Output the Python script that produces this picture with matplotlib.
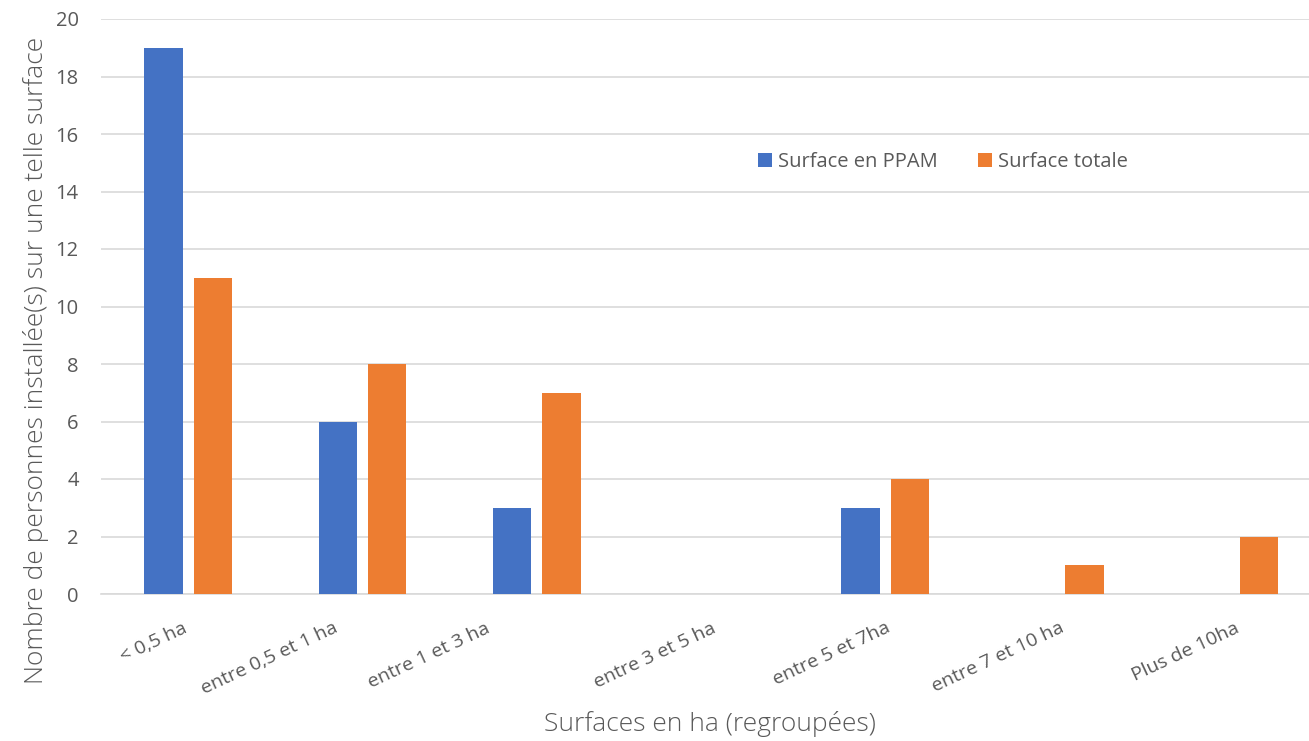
import numpy as np
import matplotlib.pyplot as plt
from matplotlib.transforms import ScaledTranslation

categories = ["< 0,5 ha", "entre 0,5 et 1 ha", "entre 1 et 3 ha", "entre 3 et 5 ha",
              "entre 5 et 7ha", "entre 7 et 10 ha", "Plus de 10ha"]
surface_ppam = [19, 6, 3, 0, 3, 0, 0]
surface_totale = [11, 8, 7, 0, 4, 1, 2]

# décalage horizontal (pixels) des étiquettes, comme dans l'original
decalages = [-6, -30, -52, 0, 0, 0, 0]

plt.rcParams['font.family'] = ['Open Sans', 'DejaVu Sans']
gris = '#595959'

fig = plt.figure(figsize=(13.09, 7.41), dpi=100)
ax = fig.add_axes([101/1309, 1 - 594/741, 1208/1309, 575/741])

x = np.arange(len(categories))
w = 0.22
ax.bar(x - 0.142, surface_ppam, w, color='#4472C4', label='Surface en PPAM', zorder=3)
ax.bar(x + 0.142, surface_totale, w, color='#ED7D31', label='Surface totale', zorder=3)

ax.set_xlim(-0.5, 6.43)
ax.set_ylim(0, 20)
ax.set_yticks(range(0, 21, 2))
ax.yaxis.grid(True, color='#D9D9D9', linewidth=1.2, zorder=0)
for s in ['top', 'right', 'left']:
    ax.spines[s].set_visible(False)
ax.spines['bottom'].set_color('#D9D9D9')
ax.spines['bottom'].set_linewidth(1.2)
ax.tick_params(axis='both', length=0, colors=gris, labelsize=14.5)
ax.tick_params(axis='y', pad=16)

ax.set_xticks(x)
ax.set_xticklabels(categories, rotation=25, ha='right', rotation_mode='anchor',
                   fontsize=14, color=gris)
ax.tick_params(axis='x', pad=18)
for lab, dx in zip(ax.get_xticklabels(), decalages):
    lab.set_transform(lab.get_transform() + ScaledTranslation(dx / 100, 0, fig.dpi_scale_trans))

ax.set_ylabel("Nombre de personnes installée(s) sur une telle surface",
              fontsize=19, color=gris, fontweight='light')
ax.yaxis.set_label_coords(-0.043, 0.407)
ax.set_xlabel("Surfaces en ha (regroupées)", fontsize=19, color=gris,
              fontweight='light')
ax.xaxis.set_label_coords(0.504, -0.203)

leg = ax.legend(loc='center', bbox_to_anchor=(0.697, 0.751), ncol=2, frameon=False,
                fontsize=14.5, handlelength=0.7, handleheight=0.7, columnspacing=2.0,
                handletextpad=0.3)
for t in leg.get_texts():
    t.set_color(gris)

fig.savefig('out.png', dpi=100)
